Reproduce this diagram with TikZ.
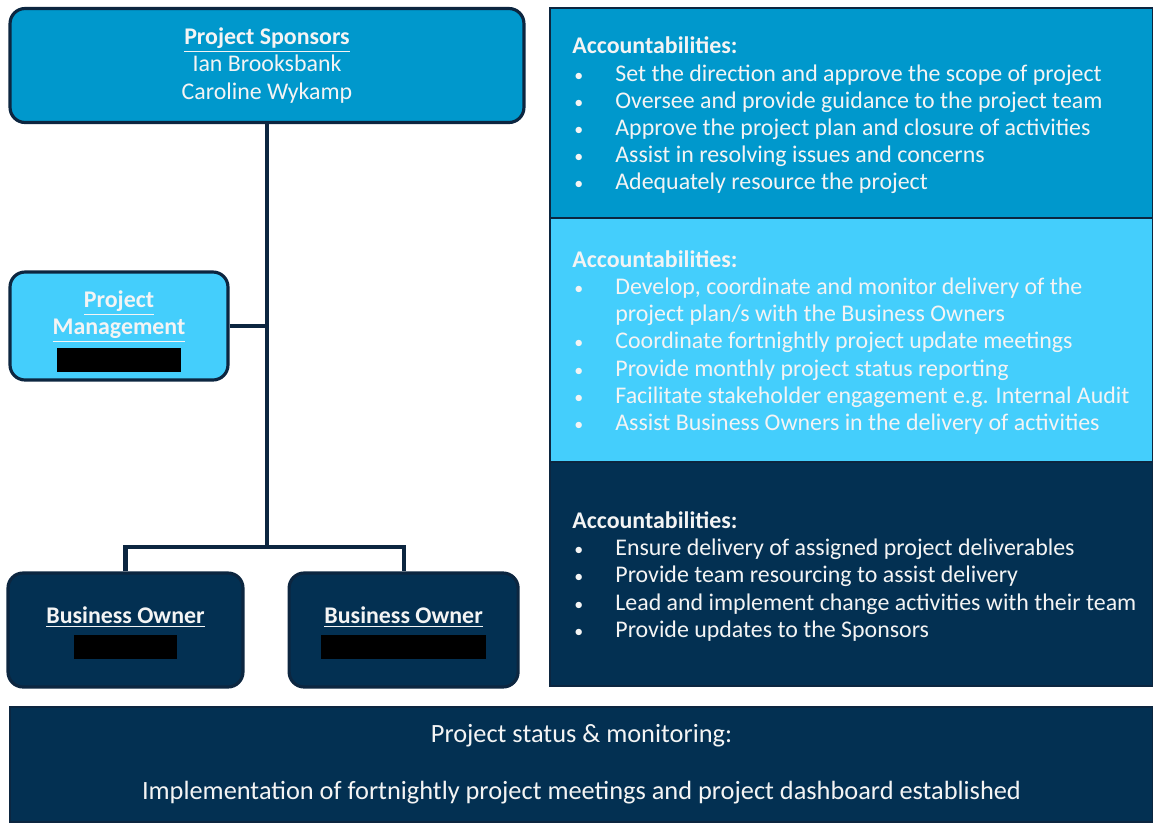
\documentclass[tikz,border=0pt]{standalone}
\usepackage{fontspec}
\setmainfont{Carlito}
\usetikzlibrary{positioning}

\definecolor{sponsorblue}{RGB}{0,152,204}
\definecolor{mgmtblue}{RGB}{68,206,252}
\definecolor{ownernavy}{RGB}{3,48,82}
\definecolor{edgenavy}{RGB}{12,38,64}
\definecolor{paper}{RGB}{244,244,244}

\newcommand{\bul}[1]{\makebox[0.86cm][l]{\hspace{0.04cm}\scalebox{0.75}{\textbullet}}#1}
\newcommand{\head}[1]{\underline{\textbf{#1}}}
\newcommand{\hidden}[2][0.12cm]{\textcolor{black}{\rule[-#1]{#2}{0.48cm}}}

\begin{document}
\begin{tikzpicture}[x=0.02cm, y=-0.02cm,
  every node/.style={font=\fontsize{13.6}{15.5}\selectfont, text=paper},
  box/.style={draw=edgenavy, line width=1.8pt, rounded corners=0.3cm, align=center, inner sep=0pt},
  panel/.style={draw=edgenavy, line width=1.5pt, minimum width=12.06cm, inner sep=0pt, outer sep=0pt},
  acc/.style={align=left, anchor=west, xshift=0.44cm, yshift=-0.05cm, inner sep=0pt},
  link/.style={draw=edgenavy, line width=2.3pt}]
\useasboundingbox (0,0) rectangle (1153,822);

% org chart
\node[box, fill=sponsorblue, minimum width=10.28cm, minimum height=2.28cm] (spons) at (267,65.5)
  {\head{Project Sponsors}\\Ian Brooksbank\\Caroline Wykamp};
\node[box, fill=mgmtblue, minimum width=4.36cm, minimum height=2.16cm] (mgmt) at (119,326)
  {\rule{0pt}{0.55cm}\head{Project}\\\head{Management}\\\hidden[0.2cm]{2.5cm}};
\node[box, fill=ownernavy, minimum width=4.7cm, minimum height=2.28cm] (own1) at (125.5,630)
  {\rule{0pt}{0.45cm}\head{Business Owner}\\\hidden[0.16cm]{2.06cm}};
\node[box, fill=ownernavy, minimum width=4.58cm, minimum height=2.28cm] (own2) [right=0.86cm of own1]
  {\rule{0pt}{0.45cm}\head{Business Owner}\\\hidden[0.16cm]{3.3cm}};

\path (spons.south) ++(0,423) coordinate (join);
\draw[link] (spons.south) -- (join);
\draw[link] (mgmt.east) -- (mgmt.east -| join);
\draw[link] (own1.north) |- (join) -| (own2.north);

% accountabilities
\node[panel, fill=sponsorblue, minimum height=4.2cm] (pan1) at (851.5,113) {};
\node[panel, fill=mgmtblue, minimum height=4.88cm] (pan2) [below=0cm of pan1] {};
\node[panel, fill=ownernavy, minimum height=4.48cm] (pan3) [below=0cm of pan2] {};

\node[acc] (acc1) at (pan1.west) {\textbf{Accountabilities:}\\
  \bul{Set the direction and approve the scope of project}\\
  \bul{Oversee and provide guidance to the project team}\\
  \bul{Approve the project plan and closure of activities}\\
  \bul{Assist in resolving issues and concerns}\\
  \bul{Adequately resource the project}};
\node[acc] (acc2) at (pan2.west) {\textbf{Accountabilities:}\\
  \bul{Develop, coordinate and monitor delivery of the}\\
  \hspace*{0.86cm}project plan/s with the Business Owners\\
  \bul{Coordinate fortnightly project update meetings}\\
  \bul{Provide monthly project status reporting}\\
  \bul{Facilitate stakeholder engagement e.g. Internal Audit}\\
  \bul{Assist Business Owners in the delivery of activities}};
\node[acc] (acc3) at (pan3.west) {\textbf{Accountabilities:}\\
  \bul{Ensure delivery of assigned project deliverables}\\
  \bul{Provide team resourcing to assist delivery}\\
  \bul{Lead and implement change activities with their team}\\
  \bul{Provide updates to the Sponsors}};

% status banner
\node[panel, fill=ownernavy, minimum width=22.86cm, minimum height=2.3cm, align=center,
  font=\fontsize{15}{18}\selectfont] (status) at (581.5,764.5)
  {Project status \& monitoring:\\[14.3pt]
   Implementation of fortnightly project meetings and project dashboard established};
\end{tikzpicture}
\end{document}
